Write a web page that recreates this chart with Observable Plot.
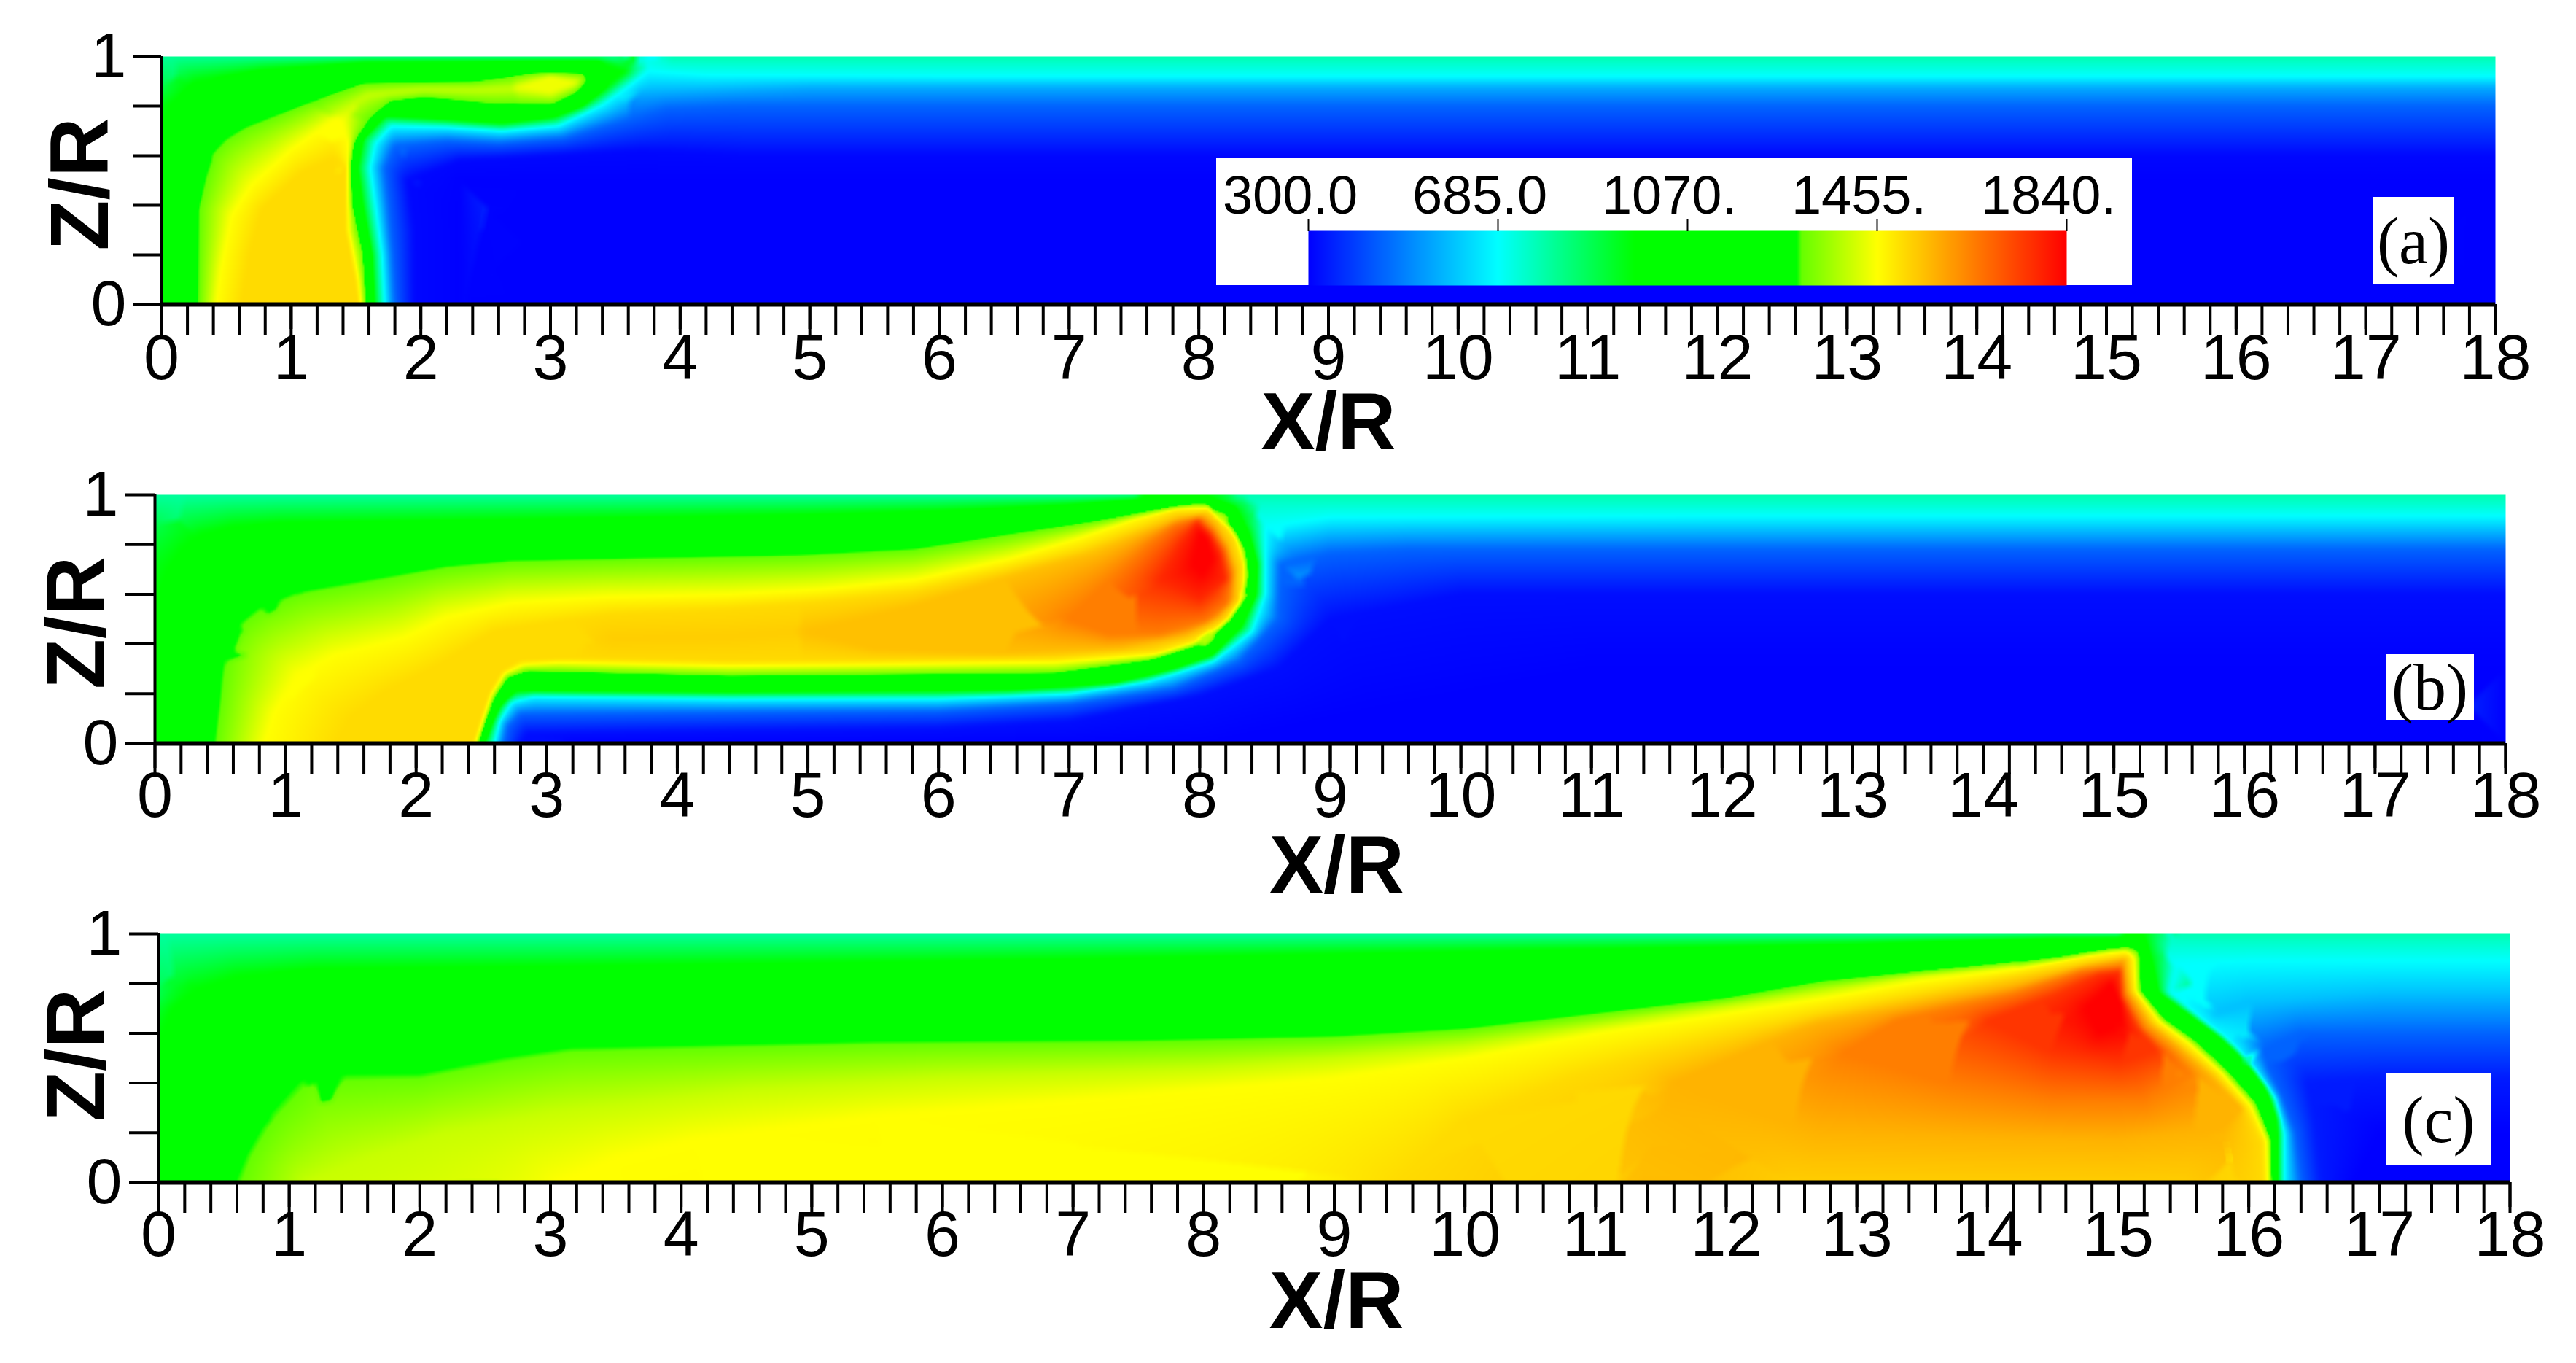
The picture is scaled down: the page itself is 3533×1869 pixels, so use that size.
<!DOCTYPE html>
<html>
<head>
<meta charset="utf-8">
<script src="https://cdn.jsdelivr.net/npm/d3@7"></script>
<script src="https://cdn.jsdelivr.net/npm/@observablehq/plot@0.6"></script>
<style>
html,body{margin:0;padding:0;background:#fff;}
#page{position:relative;width:3533px;height:1869px;overflow:hidden;}
svg{display:block;}
.tag{position:absolute;background:#fff;font-family:"Liberation Serif";font-size:90px;color:#000;display:flex;align-items:center;justify-content:center;}
#legend{position:absolute;left:1668px;top:216px;background:#fff;}
</style>
</head>
<body>
<div id="page"></div>
<script>
// Colour scale
const colorDomain = [300, 685, 963, 1292, 1302, 1455, 1840];
const colorRange = ["#0000ff", "#00ffff", "#00ff00", "#00ff00", "#66ff00", "#ffff00", "#ff0000"];
const legendTicks = [300, 685, 1070, 1455, 1840];
const legendLabels = ["300.0", "685.0", "1070.", "1455.", "1840."];
const xTicks = d3.range(0, 19);
const xMinorTicks = d3.range(0, 90).map(i => i / 5).concat([18]);
const zTicks = [0, 0.2, 0.4, 0.6, 0.8, 1];

// Panel (a): temperature isolines
const aT = [800, 770, 880, 1020, 963, 685, 560, 450, 310, 300, 1292, 1400, 1440, 1455, 1510];
const aX = [
  [0, 1, 2, 3, 3.5],
  [3.95, 6, 9, 12, 15, 18],
  [0],
  [0, 0, 0.1],
  [0, 0.05, 0.26, 0.78, 1.58, 3.37, 3.58, 3.42, 3.25, 3.02, 2.63, 2.2, 1.72, 1.55, 1.51, 1.55, 1.62, 1.64],
  [1.72, 1.7, 1.65, 1.61, 1.65, 1.77, 2.2, 2.63, 3.06, 3.4, 3.62, 3.75, 4.2, 6, 9, 12, 15, 18],
  [3.7, 5, 9, 13, 18],
  [1.8, 1.78, 1.75, 1.72, 1.8, 2.2, 2.6, 3.1, 3.5, 3.9, 4.4, 6, 9, 12, 15, 18],
  [1.95, 1.95, 1.9, 2.3, 3, 3.7, 4.5, 6, 9, 12, 15, 18],
  [2.3, 18, 18, 2.3, 2.3],
  [0.28, 0.28, 0.37, 0.48, 0.65, 1.0, 1.3, 1.55, 2.4, 2.85, 3.26, 3.28, 3.2, 3.02, 2.55, 2.03, 1.77, 1.62, 1.49, 1.46, 1.47, 1.56, 1.58],
  [1.34, 1.6, 2.0, 2.4, 2.7],
  [2.75, 3.0, 3.2, 3.0, 2.75],
  [0.42, 0.46, 0.54, 0.69, 1.0, 1.34, 1.4, 1.45, 1.44, 1.44, 1.52, 1.54],
  [0.62, 0.68, 0.78, 1.08, 1.34, 1.43, 1.43, 1.5, 1.53]
];
const aZ = [
  [1, 1, 1, 1, 1],
  [1, 1, 1, 1, 1, 1],
  [0.88],
  [0, 0.3, 0.6],
  [0.68, 0.8, 0.9, 0.948, 0.978, 0.984, 0.94, 0.87, 0.8, 0.755, 0.73, 0.745, 0.76, 0.67, 0.55, 0.4, 0.2, 0],
  [0, 0.2, 0.4, 0.55, 0.65, 0.72, 0.715, 0.7, 0.72, 0.805, 0.888, 0.94, 0.925, 0.92, 0.92, 0.92, 0.92, 0.92],
  [0.85, 0.875, 0.875, 0.875, 0.875],
  [0, 0.2, 0.4, 0.55, 0.64, 0.66, 0.65, 0.67, 0.73, 0.79, 0.8, 0.8, 0.8, 0.8, 0.8, 0.8],
  [0, 0.3, 0.5, 0.58, 0.6, 0.62, 0.6, 0.6, 0.6, 0.6, 0.6, 0.6],
  [0, 0, 0.5, 0.5, 0],
  [0, 0.385, 0.6, 0.67, 0.72, 0.79, 0.85, 0.895, 0.9, 0.935, 0.935, 0.9, 0.853, 0.805, 0.805, 0.835, 0.817, 0.745, 0.65, 0.565, 0.41, 0.206, 0],
  [0.77, 0.845, 0.865, 0.865, 0.87],
  [0.875, 0.92, 0.895, 0.855, 0.875],
  [0, 0.15, 0.36, 0.48, 0.625, 0.75, 0.74, 0.65, 0.5, 0.3, 0.1, 0],
  [0, 0.2, 0.385, 0.53, 0.59, 0.55, 0.3, 0.1, 0]
];

// Panel (b)
const bT = [790, 770, 880, 1020, 963, 685, 740, 450, 320, 300, 1292, 1455, 1510, 1530, 1550, 1650, 1780, 1840];
const bX = [
  [0, 2, 4, 6, 7.5],
  [8.3, 10, 12, 14, 16, 18],
  [0],
  [0, 0, 0.15],
  [0, 0.1, 0.2, 0.34, 0.6, 0.95, 2, 5, 6, 7, 7.6, 8.05, 8.27, 8.37, 8.44, 8.43, 8.32, 8.1, 7.82, 7.36, 6.54, 4.4, 2.76, 2.64, 2.58, 2.52],
  [2.6, 2.64, 2.73, 2.9, 4.4, 6, 7, 7.6, 8.1, 8.4, 8.5, 8.5, 8.5, 9, 12, 15, 18],
  [8.45, 10, 13, 18],
  [2.67, 2.7, 2.8, 4.4, 6, 7, 7.8, 8.3, 8.6, 8.62, 9, 9.6, 12, 15, 18],
  [2.8, 2.85, 4.4, 6, 7, 8, 8.6, 9, 10, 14, 18],
  [3.2, 18, 18, 11, 8, 3.2],
  [0.45, 0.49, 0.52, 0.63, 0.81, 1.09, 1.66, 2.23, 2.73, 4.4, 4.93, 5.82, 6.3, 6.6, 7.25, 7.5, 7.82, 7.96, 8.07, 8.1, 8.25, 8.35, 8.37, 8.32, 8.18, 7.96, 7.6, 6.9, 4.4, 2.85, 2.7, 2.6, 2.54, 2.48],
  [0.84, 0.91, 1.09, 1.38, 1.91, 2.23, 2.73, 3.44, 4.4, 5.1, 5.82, 6.54, 7.07, 7.5, 7.82, 8.07, 8.18, 8.29, 8.35, 8.34, 8.23, 8.04, 7.68, 6.89, 5.46, 4.4, 3.09, 2.82, 2.68, 2.58, 2.52, 2.46],
  [1.4, 1.5, 1.75, 2.2, 2.6, 3.5, 4.4, 5.1, 5.8, 6.5, 7.1, 7.5, 7.8, 8.05, 8.15, 8.26, 8.32, 8.31, 8.2, 8.0, 7.65, 6.9, 5.5, 4.4, 3.2, 2.8, 2.66, 2.56, 2.5, 2.44],
  [3.5, 4.4, 4.9],
  [5, 5.8, 6.6, 7.2, 7.6, 7.85, 8.05, 8.13, 8.22, 8.28, 8.27, 8.15, 7.9, 7.4, 6.5, 5.5, 5],
  [7, 7.4, 7.6, 7.8, 8, 8.1, 8.2, 8.25, 8.22, 8.05, 7.7, 7.3, 7],
  [7.7, 7.85, 7.98, 8.08, 8.16, 8.2, 8, 7.7],
  [7.95, 8, 8.06, 8.1, 8.02, 7.95]
];
const bZ = [
  [1, 1, 1, 1, 1],
  [1, 1, 1, 1, 1, 1],
  [0.88],
  [0, 0.3, 0.5],
  [0.55, 0.7, 0.78, 0.84, 0.875, 0.888, 0.895, 0.92, 0.935, 0.96, 0.985, 0.99, 0.95, 0.85, 0.72, 0.6, 0.47, 0.355, 0.3, 0.24, 0.213, 0.205, 0.21, 0.15, 0.08, 0],
  [0, 0.09, 0.165, 0.19, 0.18, 0.18, 0.2, 0.25, 0.33, 0.45, 0.6, 0.75, 0.87, 0.91, 0.915, 0.915, 0.915],
  [0.965, 0.965, 0.965, 0.965],
  [0, 0.07, 0.12, 0.125, 0.13, 0.16, 0.22, 0.33, 0.5, 0.72, 0.765, 0.78, 0.78, 0.78, 0.78],
  [0, 0.04, 0.05, 0.06, 0.09, 0.19, 0.3, 0.5, 0.6, 0.6, 0.6],
  [0, 0, 0.3, 0.3, 0, 0],
  [0, 0.183, 0.392, 0.485, 0.555, 0.613, 0.665, 0.717, 0.74, 0.757, 0.762, 0.786, 0.825, 0.85, 0.9, 0.923, 0.953, 0.965, 0.963, 0.938, 0.865, 0.776, 0.67, 0.56, 0.47, 0.394, 0.335, 0.281, 0.27, 0.29, 0.265, 0.185, 0.1, 0],
  [0, 0.125, 0.276, 0.357, 0.427, 0.508, 0.566, 0.589, 0.6, 0.62, 0.659, 0.742, 0.825, 0.904, 0.948, 0.948, 0.904, 0.825, 0.718, 0.59, 0.502, 0.414, 0.355, 0.325, 0.316, 0.311, 0.325, 0.315, 0.28, 0.195, 0.1, 0],
  [0, 0.1, 0.2, 0.32, 0.45, 0.52, 0.54, 0.57, 0.61, 0.695, 0.78, 0.86, 0.925, 0.935, 0.9, 0.82, 0.71, 0.58, 0.5, 0.43, 0.375, 0.345, 0.335, 0.33, 0.34, 0.335, 0.29, 0.2, 0.1, 0],
  [0.42, 0.43, 0.45],
  [0.45, 0.55, 0.68, 0.77, 0.86, 0.91, 0.92, 0.88, 0.8, 0.7, 0.58, 0.5, 0.43, 0.38, 0.36, 0.38, 0.45],
  [0.5, 0.7, 0.8, 0.88, 0.91, 0.86, 0.78, 0.68, 0.56, 0.49, 0.44, 0.44, 0.5],
  [0.66, 0.8, 0.89, 0.84, 0.76, 0.66, 0.58, 0.66],
  [0.72, 0.85, 0.82, 0.74, 0.68, 0.72]
];

// Panel (c)
const cT = [790, 770, 730, 880, 1020, 963, 685, 590, 450, 340, 300, 1292, 1400, 1455, 1510, 1530, 1570, 1650, 1760, 1840];
const cX = [
  [0, 3, 6, 9, 12, 15],
  [15.5, 16.5, 18],
  [15.4, 16, 18],
  [0],
  [0, 0],
  [0, 0.03, 0.1, 0.3, 0.6, 1.2, 3, 6, 10, 13, 14.5, 15.2, 15.26, 15.31, 15.54, 15.79, 15.98, 16.13, 16.22, 16.22],
  [16.27, 16.27, 16.2, 16.05, 15.9, 15.6, 15.39, 15.42, 15.45, 16, 17, 18],
  [15.75, 16, 17, 18],
  [16.4, 16.35, 16.25, 16.15, 16.1, 16.4, 17, 18],
  [16.55, 16.5, 16.45, 17, 18],
  [16.8, 18, 18, 17, 16.8],
  [0.58, 0.67, 0.84, 1.09, 1.18, 2, 2.63, 3.15, 5.49, 7.5, 9, 10, 11, 12, 12.73, 13.84, 14.58, 14.95, 15.09, 15.16, 15.17, 15.35, 15.58, 15.83, 16.05, 16.17, 16.18],
  [1.15, 1.6, 2.2, 3, 4.5, 6, 8, 9, 10, 11, 12, 12.73, 13.47, 14.2],
  [3.06, 3.5, 4.1, 5.5, 7, 9, 10, 11, 12, 12.73, 13.47, 14.2, 14.76, 15.06, 15.13, 15.14, 15.32, 15.55, 15.8, 16.02, 16.14, 16.15],
  [9.5, 10, 10.8, 11.5, 12.2, 12.7, 13.5, 14.2, 14.8, 15.08, 15.11, 15.28, 15.5, 15.76, 15.97, 16.1, 16.11],
  [12.5, 14, 15.5],
  [11.6, 12.7, 14, 15, 15.8, 15.95, 15.72, 15.45, 15.24, 15.08, 15.05, 14.75, 14.2, 13.5, 12.7, 12.4, 11.6],
  [12.9, 13.3, 14.2, 14.7, 15.03, 15.05, 15.2, 15.42, 15.55, 15.2, 14.5, 13.7, 12.9],
  [14, 14.5, 14.85, 15.02, 15.03, 15.15, 15.3, 15, 14.5, 14],
  [14.75, 14.95, 15.03, 15.03, 14.85, 14.75]
];
const cZ = [
  [1, 1, 1, 1, 1, 1],
  [1, 1, 1],
  [0.95, 0.95, 0.95],
  [0.75],
  [0, 0.25],
  [0.5, 0.6, 0.7, 0.78, 0.83, 0.86, 0.87, 0.89, 0.93, 0.96, 0.985, 0.985, 0.88, 0.763, 0.68, 0.586, 0.49, 0.386, 0.256, 0],
  [0, 0.197, 0.34, 0.445, 0.54, 0.67, 0.763, 0.82, 0.88, 0.89, 0.89, 0.89],
  [0.68, 0.72, 0.76, 0.76],
  [0, 0.2, 0.34, 0.45, 0.54, 0.6, 0.6, 0.6],
  [0, 0.25, 0.4, 0.42, 0.42],
  [0, 0, 0.2, 0.2, 0],
  [0, 0.115, 0.27, 0.42, 0.44, 0.44, 0.505, 0.546, 0.57, 0.575, 0.59, 0.62, 0.68, 0.74, 0.81, 0.863, 0.905, 0.94, 0.946, 0.93, 0.77, 0.655, 0.57, 0.45, 0.32, 0.17, 0],
  [0, 0.1, 0.2, 0.28, 0.37, 0.42, 0.46, 0.5, 0.55, 0.63, 0.71, 0.77, 0.835, 0.875],
  [0, 0.1, 0.175, 0.27, 0.33, 0.42, 0.5, 0.6, 0.68, 0.74, 0.81, 0.857, 0.916, 0.934, 0.9, 0.77, 0.65, 0.56, 0.44, 0.31, 0.17, 0],
  [0, 0.25, 0.42, 0.53, 0.62, 0.68, 0.76, 0.83, 0.89, 0.91, 0.77, 0.64, 0.55, 0.43, 0.3, 0.16, 0],
  [0, 0, 0],
  [0.4, 0.2, 0.18, 0.17, 0.22, 0.3, 0.42, 0.55, 0.64, 0.77, 0.9, 0.87, 0.79, 0.72, 0.64, 0.58, 0.4],
  [0.52, 0.65, 0.76, 0.85, 0.87, 0.76, 0.62, 0.52, 0.44, 0.33, 0.33, 0.4, 0.52],
  [0.65, 0.75, 0.84, 0.85, 0.74, 0.62, 0.53, 0.48, 0.52, 0.65],
  [0.7, 0.8, 0.72, 0.63, 0.6, 0.7]
];

const color = {type: "linear", domain: colorDomain, range: colorRange, interpolate: "rgb", clamp: true};
const FONT = "Liberation Sans";

function samples(T, X, Z) {
  const rows = [];
  T.forEach((t, i) => X[i].forEach((x, j) => rows.push({x, z: Z[i][j], t, line: i})));
  return rows;
}

// Small box smoothing of the interpolated temperatures
function smooth(a, w, h, r) {
  const t = new Float64Array(a.length);
  for (let y = 0; y < h; y++) for (let x = 0; x < w; x++) {
    let s = 0;
    for (let k = -r; k <= r; k++) s += a[y * w + Math.min(w - 1, Math.max(0, x + k))];
    t[y * w + x] = s / (2 * r + 1);
  }
  for (let y = 0; y < h; y++) for (let x = 0; x < w; x++) {
    let s = 0;
    for (let k = -r; k <= r; k++) s += t[Math.min(h - 1, Math.max(0, y + k)) * w + x];
    a[y * w + x] = s / (2 * r + 1);
  }
  return a;
}

// Raster interpolator: each pixel is read between the nearest isoline and the
// nearest isoline on its opposite side, so the field follows the read curves.
function isolineInterpolator(rows) {
  return (index, w, h, X, Y, V) => {
    const segs = [];
    for (let n = 0; n < rows.length; n++) {
      const prev = n > 0 && rows[n - 1].line === rows[n].line ? n - 1 : n;
      if (prev === n && n + 1 < rows.length && rows[n + 1].line === rows[n].line) continue;
      segs.push(X[prev], Y[prev], X[n] - X[prev], Y[n] - Y[prev], V[n]);
    }
    const m = segs.length, out = new Float64Array(w * h);
    const near = new Float64Array(m / 5 * 3);
    for (let py = 0; py < h; py++) {
      const cy = py + 0.5;
      for (let px = 0; px < w; px++) {
        const cx = px + 0.5;
        let best = Infinity, ax = 0, ay = 0, av = 0;
        for (let s = 0, q = 0; s < m; s += 5, q += 3) {
          const bx = segs[s + 2], by = segs[s + 3];
          const l = bx * bx + by * by;
          let u = l > 0 ? ((cx - segs[s]) * bx + (cy - segs[s + 1]) * by) / l : 0;
          u = u < 0 ? 0 : u > 1 ? 1 : u;
          const dx = segs[s] + u * bx - cx, dy = segs[s + 1] + u * by - cy;
          const d2 = dx * dx + dy * dy;
          near[q] = dx; near[q + 1] = dy; near[q + 2] = d2;
          if (d2 < best) { best = d2; ax = dx; ay = dy; av = segs[s + 4]; }
        }
        const da = Math.sqrt(best);
        let second = Infinity, bv = av;
        if (da > 1e-6) {
          for (let s = 0, q = 0; s < m; s += 5, q += 3) {
            const d2 = near[q + 2];
            if (d2 < second && ax * near[q] + ay * near[q + 1] < -0.2 * da * Math.sqrt(d2)) {
              second = d2; bv = segs[s + 4];
            }
          }
        }
        const db = Math.sqrt(second);
        out[py * w + px] = second === Infinity ? av : (av * db + bv * da) / (da + db);
      }
    }
    return smooth(out, w, h, 2);
  };
}

function panel(T, X, Z, o) {
  const rows = samples(T, X, Z);
  return Plot.plot({
    width: 3533, height: o.height,
    marginLeft: o.left, marginRight: 3533 - o.right, marginTop: o.top, marginBottom: o.bottom,
    style: {background: "transparent", overflow: "visible", fontFamily: FONT},
    x: {domain: [0, 18], axis: null},
    y: {domain: [0, 1], axis: null},
    color,
    marks: [
      Plot.raster(rows, {x: "x", y: "z", fill: "t", x1: 0, x2: 18, y1: 0, y2: 1, interpolate: isolineInterpolator(rows), pixelSize: 2}),
      Plot.axisX({ticks: xMinorTicks, tickSize: 42, strokeWidth: 4, fill: "none", label: null}),
      Plot.axisX({ticks: xTicks, tickSize: 34, tickPadding: o.xPad, strokeWidth: 4, fontSize: 88, fontFamily: FONT, tickFormat: d => String(d), label: null}),
      Plot.axisY({ticks: zTicks, tickSize: o.ySize, strokeWidth: 4, fontSize: 88, tickPadding: 10, fontFamily: FONT, tickFormat: d => (d === 0 || d === 1 ? String(d) : ""), label: null}),
      Plot.ruleX([0], {strokeWidth: 4, stroke: "#000"}),
      Plot.ruleY([0], {strokeWidth: 6, stroke: "#000"}),
      Plot.text(["X/R"], {frameAnchor: "bottom", textAnchor: "middle", lineAnchor: "middle", dx: o.xLabelDx, dy: o.xLabelDy, fontSize: 111, fontWeight: "bold", fontFamily: FONT, fill: "#000"}),
      Plot.text(["Z/R"], {frameAnchor: "left", textAnchor: "middle", lineAnchor: "middle", rotate: -90, dx: o.zLabelDx, dy: o.zLabelDy, fontSize: 113, fontWeight: "bold", fontFamily: FONT, fill: "#000"})
    ]
  });
}

const page = document.getElementById("page");
page.append(panel(aT, aX, aZ, {height: 640, left: 221, right: 3422, top: 77, bottom: 223, xPad: 6, ySize: 38, xLabelDx: 0, xLabelDy: 163, zLabelDx: -110, zLabelDy: 5}));
page.append(panel(bT, bX, bZ, {height: 600, left: 212, right: 3436, top: 38, bottom: 221, xPad: 4, ySize: 40, xLabelDx: 9, xLabelDy: 169, zLabelDx: -106, zLabelDy: 5}));
page.append(panel(cT, cX, cZ, {height: 629, left: 217, right: 3442, top: 40, bottom: 248, xPad: 4, ySize: 40, xLabelDx: 3, xLabelDy: 164, zLabelDx: -111, zLabelDy: -4}));

// Colour-bar legend
const legendBox = document.createElement("div");
legendBox.id = "legend";
legendBox.append(Plot.plot({
  width: 1256, height: 175, marginLeft: 126, marginRight: 90, marginTop: 100, marginBottom: 0,
  style: {background: "transparent", overflow: "visible", fontFamily: FONT},
  x: {domain: [300, 1840], axis: null},
  y: {domain: [0, 1], axis: null},
  color,
  marks: [
    Plot.raster({fill: (x, y) => x, x1: 300, x2: 1840, y1: 0, y2: 1, width: 1040, height: 1}),
    Plot.axisX({anchor: "top", ticks: legendTicks, tickSize: 17, strokeWidth: 2, fill: "none", label: null}),
    Plot.axisX({anchor: "top", ticks: legendTicks, tickSize: 0, tickPadding: 24, dx: -25, fontSize: 74, fontFamily: FONT,
      tickFormat: d => legendLabels[legendTicks.indexOf(d)], label: null})
  ]
}));
page.append(legendBox);

// Panel tags
[["(a)", 3254, 270, 112, 120], ["(b)", 3272, 897, 121, 90], ["(c)", 3273, 1472, 143, 126]].forEach(([s, l, t, w, h]) => {
  const d = document.createElement("div");
  d.className = "tag";
  d.textContent = s;
  d.style.left = l + "px"; d.style.top = t + "px"; d.style.width = w + "px"; d.style.height = h + "px";
  page.append(d);
});
</script>
</body>
</html>
